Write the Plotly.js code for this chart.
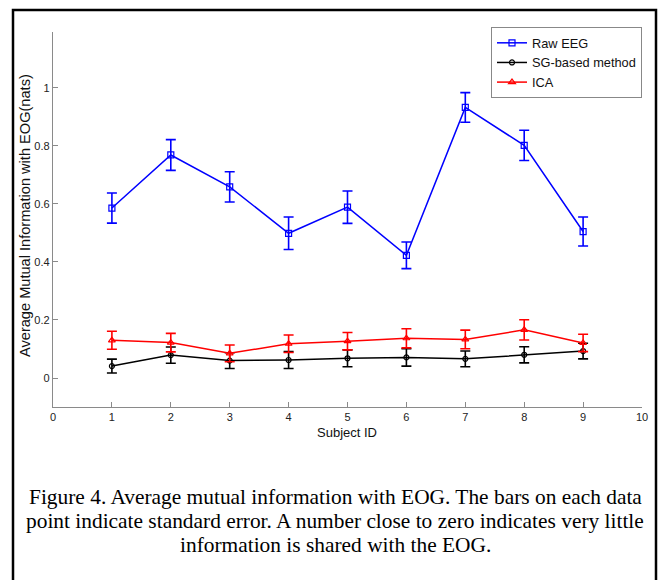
<!DOCTYPE html>
<html>
<head>
<meta charset="utf-8">
<script src="https://cdn.plot.ly/plotly-3.0.1.min.js"></script>
<style>
html,body{margin:0;padding:0;background:#fff;}
#chart{width:659px;height:580px;}
</style>
</head>
<body>
<div id="chart"></div>
<script>
// Subject IDs
var subjects = [1, 2, 3, 4, 5, 6, 7, 8, 9];

// Raw EEG
var rawMean = [0.586, 0.769, 0.659, 0.499, 0.589, 0.423, 0.933, 0.802, 0.505];
var rawErr  = [0.052, 0.053, 0.052, 0.056, 0.056, 0.046, 0.051, 0.052, 0.050];

// SG-based method
var sgMean = [0.041, 0.079, 0.060, 0.062, 0.068, 0.071, 0.066, 0.080, 0.093];
var sgErr  = [0.024, 0.028, 0.027, 0.029, 0.029, 0.030, 0.027, 0.028, 0.027];

// ICA
var icaMean = [0.130, 0.122, 0.085, 0.118, 0.127, 0.137, 0.133, 0.166, 0.121];
var icaErr  = [0.031, 0.032, 0.029, 0.030, 0.030, 0.033, 0.032, 0.035, 0.030];

var seriesNames = ['Raw EEG', 'SG-based method', 'ICA'];
var xTicks = [0, 1, 2, 3, 4, 5, 6, 7, 8, 9, 10];
var yTicks = [0, 0.2, 0.4, 0.6, 0.8, 1];
var yTickText = ['0', '0.2', '0.4', '0.6', '0.8', '1'];

var xTitle = 'Subject ID';
var yTitle = 'Average Mutual Information with EOG(nats)';
var captionLines = [
  'Figure 4. Average mutual information with EOG. The bars on each data',
  'point indicate standard error. A number close to zero indicates very little',
  'information is shared with the EOG.'
];

function trace(name, y, err, color, symbol, msize) {
  return {
    type: 'scatter', mode: 'lines+markers', name: name,
    x: subjects, y: y,
    line: {color: color, width: 1.5},
    marker: {symbol: symbol, size: msize, color: color, line: {color: color, width: 1.2}},
    error_y: {type: 'data', array: err, visible: true, color: color, thickness: 1.6, width: 5}
  };
}

var data = [
  trace(seriesNames[0], rawMean, rawErr, '#0000ff', 'square-open', 6),
  trace(seriesNames[1], sgMean, sgErr, '#000000', 'circle-open', 5),
  trace(seriesNames[2], icaMean, icaErr, '#ff0000', 'triangle-up-open', 6)
];

var L = 53, R = 17, T = 32, B = 173;
var PW = 659 - L - R, PH = 580 - T - B;
function px(x) { return (x - L) / PW; }
function py(y) { return (580 - B - y) / PH; }

var annotations = [
  {xref: 'paper', yref: 'paper', x: px(347), y: py(432), xanchor: 'center', yanchor: 'middle',
   text: xTitle, showarrow: false,
   font: {family: '"Liberation Sans", Arial, sans-serif', size: 13, color: '#111'}},
  {xref: 'paper', yref: 'paper', x: px(25), y: py(216), xanchor: 'center', yanchor: 'middle',
   text: yTitle, showarrow: false, textangle: -90,
   font: {family: '"Liberation Sans", Arial, sans-serif', size: 14.6, color: '#111'}}
];
var capY = [497, 521, 545];
captionLines.forEach(function (t, i) {
  annotations.push({xref: 'paper', yref: 'paper', x: px(335), y: py(capY[i]),
    xanchor: 'center', yanchor: 'middle', text: t, showarrow: false,
    font: {family: '"Liberation Serif", "Times New Roman", serif', size: 21.4, color: '#000'}});
});

var layout = {
  width: 659, height: 580,
  margin: {l: L, r: R, t: T, b: B, pad: 0},
  paper_bgcolor: '#ffffff', plot_bgcolor: '#ffffff',
  font: {family: '"Liberation Sans", Arial, sans-serif', size: 11, color: '#222'},
  showlegend: true,
  legend: {
    x: 1, y: py(27), xanchor: 'right', yanchor: 'top',
    bordercolor: '#888', borderwidth: 1, bgcolor: '#fff',
    font: {family: '"Liberation Sans", Arial, sans-serif', size: 12.8, color: '#111'},
    tracegroupgap: 0, itemwidth: 30
  },
  xaxis: {
    range: [0, 10], tickvals: xTicks, ticktext: xTicks.map(String), automargin: false,
    showgrid: false, zeroline: false, showline: true, linecolor: '#8a8a8a', linewidth: 1.2,
    ticks: 'inside', ticklen: 5, tickcolor: '#8a8a8a', tickwidth: 1,
    tickfont: {size: 11, color: '#222'}
  },
  yaxis: {
    range: [-0.1, 1.193], tickvals: yTicks, ticktext: yTickText, automargin: false,
    showgrid: false, zeroline: false, showline: true, linecolor: '#8a8a8a', linewidth: 1.2,
    ticks: 'inside', ticklen: 5, tickcolor: '#8a8a8a', tickwidth: 1,
    tickfont: {size: 11, color: '#222'}
  },
  shapes: [
    {type: 'rect', xref: 'paper', yref: 'paper', x0: px(13), x1: px(656), y0: py(10), y1: py(600),
     line: {color: '#000', width: 2.5}, fillcolor: 'rgba(0,0,0,0)'}
  ],
  annotations: annotations
};

Plotly.newPlot('chart', data, layout, {displayModeBar: false, staticPlot: true});
</script>
</body>
</html>
